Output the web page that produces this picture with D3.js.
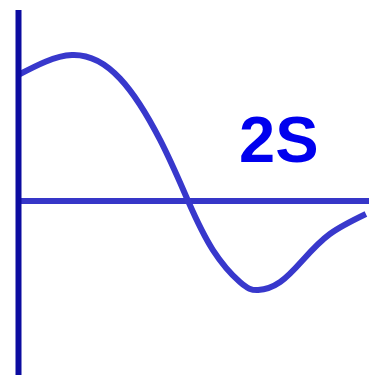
<!DOCTYPE html>
<html lang="en">
<head>
    <meta charset="UTF-8">
    <title>2S wave</title>
    <script src="https://d3js.org/d3.v7.min.js"></script>
    <style>
        html, body { margin: 0; padding: 0; background: #fff; }
        svg { display: block; }
    </style>
</head>
<body>
    <svg id="chart"></svg>
    <script>
        // curve samples (t along the axis, value relative to peak)
        const times  = [0, 1.54, 2.91, 4.06, 4.86, 5.57, 6.34, 6.86, 7.49, 8.14, 8.91, 9.94];
        const values = [0.863, 1.0, 0.84, 0.418, 0, -0.336, -0.555, -0.61, -0.555, -0.404, -0.226, -0.089];
        const label = "2S";

        const width = 369, height = 375;
        const svg = d3.select("#chart").attr("width", width).attr("height", height);

        const x = d3.scaleLinear().domain([0, 10]).range([18, 368]);
        const y = d3.scaleLinear().domain([-1, 1]).range([347, 55]);

        // horizontal zero line
        svg.append("line")
            .attr("x1", x(0)).attr("x2", width)
            .attr("y1", y(0)).attr("y2", y(0))
            .attr("stroke", "#3636c8").attr("stroke-width", 6);

        // the wave
        const line = d3.line()
            .x((d, i) => x(times[i]))
            .y(d => y(d))
            .curve(d3.curveNatural);

        svg.append("path")
            .attr("d", line(values))
            .attr("fill", "none")
            .attr("stroke", "#3838cc")
            .attr("stroke-width", 6);

        // vertical axis
        svg.append("line")
            .attr("x1", x(0) + 0.5).attr("x2", x(0) + 0.5)
            .attr("y1", 10).attr("y2", height)
            .attr("stroke", "#0c0ca0").attr("stroke-width", 6);

        svg.append("text")
            .attr("x", 239).attr("y", 162)
            .attr("font-family", "Liberation Sans, Arial, sans-serif")
            .attr("font-weight", "bold")
            .attr("font-size", 65)
            .attr("fill", "#0000ee")
            .text(label);
    </script>
</body>
</html>
